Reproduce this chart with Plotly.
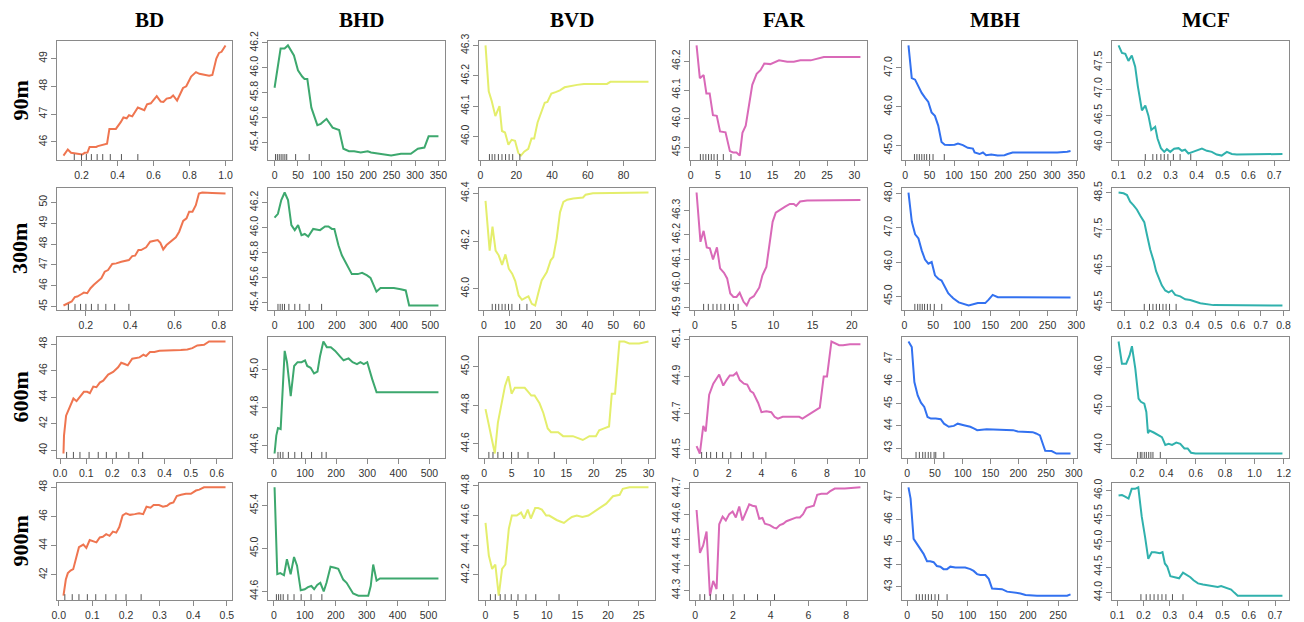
import plotly.graph_objects as go

# ---------------- values ----------------
# row 90m
BD_90_X = [0.10, 0.124, 0.142, 0.191, 0.204, 0.218, 0.233, 0.245, 0.282, 0.291, 0.318, 0.342, 0.355, 0.391,
           0.418, 0.433, 0.451, 0.464, 0.482, 0.513, 0.549, 0.564, 0.585, 0.618, 0.640, 0.655, 0.673, 0.695,
           0.709, 0.731, 0.764, 0.782, 0.809, 0.836, 0.855, 0.891, 0.909, 0.927, 0.949, 0.964, 0.978, 1.0]
BD_90_Y = [45.51, 45.73, 45.61, 45.56, 45.55, 45.61, 45.62, 45.82, 45.82, 45.85, 45.91, 45.94, 46.47, 46.47,
           46.71, 46.88, 46.85, 46.96, 46.92, 47.24, 47.14, 47.35, 47.39, 47.65, 47.45, 47.44, 47.56, 47.59,
           47.67, 47.49, 47.94, 48.0, 48.35, 48.51, 48.45, 48.41, 48.38, 48.41, 49.0, 49.2, 49.24, 49.47]
BD_90_RUG = [0.16, 0.2, 0.227, 0.255, 0.287, 0.318, 0.36, 0.422, 0.513]
BD_90_XT = ["0.2", "0.4", "0.6", "0.8", "1.0"]
BD_90_YT = ["46", "47", "48", "49"]

BHD_90_X = [0, 12.9, 21.4, 28.6, 41.4, 50, 59, 64, 70, 78.6, 91.4, 98.6, 111, 124, 138, 147, 159, 170, 184,
            199, 206, 227, 249, 270, 291, 306, 320, 329, 350]
BHD_90_Y = [45.84, 46.155, 46.155, 46.18, 46.10, 45.98, 45.93, 45.91, 45.91, 45.68, 45.54, 45.55, 45.59, 45.52,
            45.50, 45.35, 45.33, 45.33, 45.32, 45.33, 45.32, 45.305, 45.295, 45.31, 45.31, 45.35, 45.36, 45.45,
            45.45]
BHD_90_RUG = [2, 6, 10, 14, 18, 22, 26, 45, 74]
BHD_90_XT = ["0", "50", "100", "150", "200", "250", "300", "350"]
BHD_90_YT = ["45.4", "45.6", "45.8", "46.0", "46.2"]

BVD_90_X = [2.8, 4.6, 6.3, 8.3, 10.6, 12.0, 13.7, 15.6, 17.4, 19.3, 21.1, 22.6, 24.4, 26.7, 28.5, 30.0, 31.9,
            34.1, 35.9, 37.4, 39.6, 42, 44.4, 47, 50.4, 54, 57.8, 63.3, 70.7, 72.6, 80, 93.9]
BVD_90_Y = [46.30, 46.149, 46.116, 46.067, 46.10, 46.018, 46.013, 45.973, 45.989, 45.986, 45.946, 45.937, 45.95,
            45.959, 45.993, 45.993, 46.046, 46.084, 46.111, 46.114, 46.141, 46.146, 46.152, 46.162, 46.167,
            46.17, 46.173, 46.173, 46.173, 46.18, 46.18, 46.18]
BVD_90_RUG = [5, 6.5, 8, 10, 12, 14, 16, 18, 22]
BVD_90_XT = ["0", "20", "40", "60", "80"]
BVD_90_YT = ["46.0", "46.1", "46.2", "46.3"]

FAR_90_X = [1.1, 1.7, 2.4, 2.9, 3.5, 4.1, 4.8, 5.4, 6.4, 7.2, 7.8, 8.4, 9.0, 9.5, 10.1, 10.7, 11.3, 12.1, 12.8,
            13.5, 14.6, 16.2, 17.7, 18.9, 20.1, 22, 23.2, 24.4, 27.4, 31.1]
FAR_90_Y = [46.255, 46.141, 46.152, 46.088, 46.088, 46.0125, 46.01, 45.956, 45.953, 45.8875, 45.883, 45.883,
            45.872, 45.951, 45.976, 46.044, 46.118, 46.156, 46.169, 46.192, 46.19, 46.203, 46.198, 46.198,
            46.203, 46.203, 46.209, 46.215, 46.215, 46.215]
FAR_90_RUG = [1.8, 2.3, 2.8, 3.3, 3.8, 4.3, 4.9, 6.0, 7.4]
FAR_90_XT = ["0", "5", "10", "15", "20", "25", "30"]
FAR_90_YT = ["45.9", "46.0", "46.1", "46.2"]

MBH_90_X = [6.8, 13.5, 20.3, 27, 33.8, 40.5, 47.3, 54, 60.8, 67.6, 74.3, 81, 91, 101, 108, 118, 128, 138.5, 142,
            152, 159, 165.5, 176, 189, 203, 209.5, 219.6, 236.5, 270, 311, 331, 338]
MBH_90_Y = [47.58, 46.74, 46.70, 46.51, 46.36, 46.24, 46.13, 45.86, 45.77, 45.52, 45.10, 45.03, 45.02, 45.03,
            45.06, 45.02, 44.95, 44.93, 44.83, 44.79, 44.83, 44.76, 44.78, 44.75, 44.76, 44.79, 44.83, 44.83,
            44.83, 44.83, 44.85, 44.87]
MBH_90_RUG = [19, 24, 29, 34, 39, 44, 50, 57, 80]
MBH_90_XT = ["0", "50", "100", "150", "200", "250", "300", "350"]
MBH_90_YT = ["45.0", "46.0", "47.0"]

MCF_90_X = [0.1, 0.113, 0.126, 0.138, 0.151, 0.164, 0.174, 0.183, 0.19, 0.203, 0.215, 0.226, 0.241, 0.25, 0.263,
            0.276, 0.286, 0.299, 0.314, 0.331, 0.344, 0.356, 0.369, 0.386, 0.408, 0.421, 0.44, 0.459, 0.478,
            0.497, 0.517, 0.536, 0.555, 0.619, 0.683, 0.731]
MCF_90_Y = [47.82, 47.68, 47.66, 47.53, 47.63, 47.42, 47.06, 46.75, 46.60, 46.69, 46.50, 46.23, 46.29, 46.07,
            45.89, 45.82, 45.87, 45.82, 45.88, 45.89, 45.84, 45.86, 45.79, 45.82, 45.86, 45.88, 45.84, 45.82,
            45.77, 45.75, 45.82, 45.78, 45.77, 45.77, 45.78, 45.78]
MCF_90_RUG = [0.203, 0.232, 0.247, 0.263, 0.276, 0.29, 0.311, 0.337, 0.378]
MCF_90_XT = ["0.1", "0.2", "0.3", "0.4", "0.5", "0.6", "0.7"]
MCF_90_YT = ["46.0", "46.5", "47.0", "47.5"]

# row 300m
BD_300_X = [0.099, 0.12, 0.136, 0.15, 0.161, 0.181, 0.191, 0.206, 0.221, 0.236, 0.255, 0.27, 0.285, 0.3, 0.319,
            0.337, 0.36, 0.385, 0.394, 0.409, 0.422, 0.437, 0.449, 0.472, 0.49, 0.509, 0.524, 0.536, 0.549,
            0.564, 0.584, 0.606, 0.621, 0.639, 0.654, 0.666, 0.681, 0.696, 0.710, 0.725, 0.770, 0.8, 0.83]
BD_300_Y = [45.05, 45.16, 45.24, 45.45, 45.48, 45.6, 45.67, 45.64, 45.88, 46.04, 46.24, 46.36, 46.67, 46.75,
            47.04, 47.07, 47.15, 47.23, 47.23, 47.42, 47.44, 47.71, 47.71, 47.84, 48.11, 48.16, 48.19, 48.06,
            47.74, 47.95, 48.11, 48.32, 48.59, 49.11, 49.23, 49.55, 49.55, 49.86, 50.42, 50.47, 50.45, 50.42,
            50.42]
BD_300_RUG = [0.121, 0.151, 0.176, 0.2, 0.225, 0.255, 0.29, 0.33, 0.394]
BD_300_XT = ["0.2", "0.4", "0.6", "0.8"]
BD_300_YT = ["45", "46", "47", "48", "49", "50"]

BHD_300_X = [0, 10.8, 21.6, 32.4, 43.2, 54, 64.8, 75.6, 86.4, 97, 108, 124, 146, 162, 173, 184, 192, 205, 216,
             232, 248, 267, 281, 297, 308, 327, 340, 362, 383, 405, 421, 432, 470, 526]
BHD_300_Y = [46.08, 46.11, 46.22, 46.28, 46.22, 46.02, 45.98, 46.02, 45.94, 45.95, 45.93, 45.99, 45.98, 46.01,
             46.01, 45.99, 45.99, 45.86, 45.78, 45.71, 45.63, 45.63, 45.64, 45.62, 45.60, 45.49, 45.52, 45.52,
             45.52, 45.51, 45.50, 45.38, 45.38, 45.38]
BHD_300_RUG = [11, 18, 25, 32, 46, 65, 81, 111, 151]
BHD_300_XT = ["0", "100", "200", "300", "400", "500"]
BHD_300_YT = ["45.4", "45.6", "45.8", "46.0", "46.2"]

BVD_300_X = [0.6, 2.2, 3.3, 4.5, 5.7, 7.0, 8.3, 9.6, 10.9, 12.1, 13.4, 14.7, 16.0, 17.2, 18.5, 19.8, 21.1, 22.3,
             24.3, 25.8, 26.8, 28.1, 29.4, 30.7, 32.2, 34.5, 38.3, 39.3, 42.1, 49.8, 60, 63.6]
BVD_300_Y = [46.368, 46.16, 46.26, 46.16, 46.14, 46.10, 46.144, 46.084, 46.063, 46.032, 45.972, 45.954, 45.962,
             45.968, 45.937, 45.93, 45.986, 46.035, 46.07, 46.119, 46.133, 46.21, 46.32, 46.364, 46.373, 46.378,
             46.382, 46.394, 46.40, 46.40, 46.403, 46.403]
BVD_300_RUG = [3.2, 4.5, 5.7, 7, 8.2, 9.5, 10.8, 13.8, 16.6]
BVD_300_XT = ["0", "10", "20", "30", "40", "50", "60"]
BVD_300_YT = ["46.0", "46.2", "46.4"]

FAR_300_X = [0.2, 0.7, 1.1, 1.5, 1.9, 2.3, 2.8, 3.2, 3.7, 4.1, 4.5, 4.9, 5.3, 5.7, 6.2, 6.6, 7.0, 7.5, 8.2, 8.6,
             9.1, 9.5, 9.9, 10.3, 10.9, 11.5, 12.1, 12.6, 12.9, 13.4, 14.3, 16.4, 18.5, 21.1]
FAR_300_Y = [46.373, 46.171, 46.216, 46.148, 46.144, 46.099, 46.148, 46.062, 46.044, 46.021, 45.959, 45.945,
             45.945, 45.962, 45.925, 45.91, 45.938, 45.948, 45.984, 46.034, 46.068, 46.151, 46.253, 46.29,
             46.304, 46.315, 46.326, 46.326, 46.318, 46.336, 46.34, 46.34, 46.342, 46.342]
FAR_300_RUG = [1.1, 1.7, 2.3, 2.8, 3.3, 3.8, 4.4, 4.9, 5.5]
FAR_300_XT = ["0", "5", "10", "15", "20"]
FAR_300_YT = ["45.9", "46.0", "46.1", "46.2", "46.3"]

MBH_300_X = [6.9, 12.7, 18.5, 24.3, 30, 35.8, 41.6, 47.4, 53.2, 59, 64.7, 70.5, 76.3, 82, 85, 94.8, 112, 128,
             141, 147, 154, 163, 175, 198, 290]
MBH_300_Y = [48.03, 47.18, 46.81, 46.69, 46.34, 46.07, 45.95, 46.0, 45.61, 45.51, 45.46, 45.26, 45.09, 44.99,
             44.94, 44.82, 44.73, 44.80, 44.80, 44.90, 45.04, 44.97, 44.97, 44.96, 44.96]
MBH_300_RUG = [18, 23, 27, 31, 35, 40, 45, 52, 65]
MBH_300_XT = ["0", "50", "100", "150", "200", "250", "300"]
MBH_300_YT = ["45.0", "46.0", "47.0", "48.0"]

MCF_300_X = [0.075, 0.097, 0.112, 0.126, 0.141, 0.156, 0.17, 0.188, 0.2, 0.214, 0.229, 0.24, 0.25, 0.265, 0.28,
             0.295, 0.309, 0.324, 0.346, 0.368, 0.39, 0.434, 0.492, 0.595, 0.795]
MCF_300_Y = [48.51, 48.49, 48.44, 48.26, 48.16, 48.04, 47.88, 47.70, 47.35, 46.95, 46.64, 46.36, 46.2, 45.97,
             45.83, 45.78, 45.83, 45.71, 45.67, 45.59, 45.57, 45.48, 45.43, 45.42, 45.42]
MCF_300_RUG = [0.188, 0.211, 0.226, 0.241, 0.255, 0.27, 0.284, 0.299, 0.328]
MCF_300_XT = ["0.1", "0.2", "0.3", "0.4", "0.5", "0.6", "0.7", "0.8"]
MCF_300_YT = ["45.5", "46.5", "47.5", "48.5"]

# row 600m
BD_600_X = [0.013, 0.015, 0.023, 0.032, 0.041, 0.051, 0.063, 0.076, 0.091, 0.104, 0.114, 0.127, 0.139, 0.152,
            0.165, 0.184, 0.203, 0.222, 0.234, 0.247, 0.259, 0.276, 0.291, 0.304, 0.319, 0.329, 0.344, 0.361,
            0.38, 0.399, 0.43, 0.462, 0.487, 0.506, 0.525, 0.551, 0.57, 0.601, 0.633]
BD_600_Y = [39.75, 41.1, 42.6, 43.0, 43.4, 43.9, 43.7, 44.0, 44.4, 44.4, 44.3, 44.8, 44.75, 45.1, 45.25, 45.7,
            45.9, 46.25, 46.6, 46.5, 46.4, 46.9, 46.95, 47.0, 47.2, 47.1, 47.4, 47.4, 47.5, 47.5, 47.5, 47.55,
            47.6, 47.7, 47.9, 47.95, 48.2, 48.2, 48.2]
BD_600_RUG = [0.025, 0.051, 0.076, 0.111, 0.146, 0.177, 0.215, 0.263, 0.316]
BD_600_XT = ["0.0", "0.1", "0.2", "0.3", "0.4", "0.5", "0.6"]
BD_600_YT = ["40", "42", "44", "46", "48"]

BHD_600_X = [2, 7.6, 13, 21.6, 34.6, 42, 54, 65, 76, 89, 100, 107, 118, 129, 140, 148, 159, 170, 183, 197, 213,
             224, 240, 253, 267, 278, 289, 300, 316, 330, 343, 408, 529]
BHD_600_Y = [44.555, 44.65, 44.69, 44.685, 45.10, 45.04, 44.86, 45.02, 45.04, 45.04, 45.05, 45.02, 45.01, 44.98,
             44.99, 45.07, 45.15, 45.12, 45.12, 45.10, 45.07, 45.05, 45.06, 45.04, 45.03, 45.04, 45.03, 45.04,
             44.95, 44.88, 44.88, 44.88, 44.88]
BHD_600_RUG = [13, 20.5, 29, 46.5, 67, 89, 121, 154, 168]
BHD_600_XT = ["0", "100", "200", "300", "400", "500"]
BHD_600_YT = ["44.6", "44.8", "45.0"]

BVD_600_X = [0.24, 0.9, 1.5, 1.94, 2.5, 3.2, 3.8, 4.4, 5.0, 5.6, 6.5, 7.4, 8.0, 8.6, 9.2, 10.1, 10.8, 11.6, 12.2,
             12.8, 13.5, 14.4, 16.2, 18, 19.2, 20.4, 21.0, 21.9, 22.8, 23.3, 23.9, 24.7, 25.6, 26.5, 28.3, 30]
BVD_600_Y = [44.78, 44.69, 44.61, 44.55, 44.71, 44.82, 44.90, 44.95, 44.86, 44.89, 44.89, 44.89, 44.87, 44.85,
             44.85, 44.81, 44.76, 44.68, 44.66, 44.66, 44.66, 44.64, 44.64, 44.62, 44.64, 44.64, 44.67, 44.68,
             44.69, 44.86, 44.86, 45.13, 45.13, 45.12, 45.12, 45.13]
BVD_600_RUG = [0.85, 1.6, 2.5, 3.5, 5.0, 6.2, 8.0, 12.8]
BVD_600_XT = ["0", "5", "10", "15", "20", "25", "30"]
BVD_600_YT = ["44.6", "44.8", "45.0"]

FAR_600_X = [0.04, 0.24, 0.45, 0.6, 0.81, 1.06, 1.42, 1.67, 1.87, 2.07, 2.28, 2.48, 2.68, 2.93, 3.13, 3.33, 3.5,
             3.8, 4.0, 4.3, 4.6, 4.8, 5.0, 5.3, 5.9, 6.3, 6.5, 6.85, 7.25, 7.56, 7.8, 8.0, 8.27, 8.48, 8.74,
             8.98, 9.4, 10.04]
FAR_600_Y = [44.52, 44.48, 44.63, 44.60, 44.80, 44.86, 44.91, 44.85, 44.88, 44.905, 44.905, 44.92, 44.88, 44.86,
             44.855, 44.82, 44.81, 44.755, 44.705, 44.71, 44.705, 44.68, 44.67, 44.68, 44.68, 44.68, 44.67,
             44.69, 44.71, 44.73, 44.90, 44.90, 45.09, 45.08, 45.07, 45.07, 45.075, 45.075]
FAR_600_RUG = [0.35, 0.65, 0.9, 1.26, 1.63, 2.13, 2.78, 3.5, 4.27]
FAR_600_XT = ["0", "2", "4", "6", "8", "10"]
FAR_600_YT = ["44.5", "44.7", "44.9", "45.1"]

MBH_600_X = [2.4, 8.3, 13, 19, 24.9, 30.8, 36.7, 42.6, 51.5, 60.4, 66.3, 75, 84, 91, 102, 113.6, 120.7, 126, 143,
             190.5, 199, 226, 232, 239, 245, 248.5, 260, 268.6, 294]
MBH_600_Y = [47.79, 47.54, 45.97, 45.37, 45.04, 44.85, 44.40, 44.33, 44.33, 44.30, 44.10, 43.96, 44.0, 44.10,
             44.03, 43.96, 43.88, 43.81, 43.85, 43.81, 43.75, 43.72, 43.66, 43.57, 43.13, 42.88, 42.87, 42.76,
             42.76]
MBH_600_RUG = [16, 22, 28, 32.5, 38, 42.6, 48.5, 51.5, 66]
MBH_600_XT = ["0", "50", "100", "150", "200", "250", "300"]
MBH_600_YT = ["43", "44", "45", "46", "47"]

MCF_600_X = [0.075, 0.098, 0.127, 0.15, 0.166, 0.189, 0.211, 0.227, 0.25, 0.264, 0.275, 0.286, 0.314, 0.341,
             0.37, 0.393, 0.416, 0.439, 0.468, 0.495, 0.523, 0.545, 0.568, 0.598, 0.655, 1.19]
MCF_600_Y = [46.66, 46.09, 46.09, 46.30, 46.54, 45.96, 45.19, 45.11, 45.06, 44.85, 44.30, 44.37, 44.32, 44.26,
             44.20, 44.0, 44.03, 44.0, 44.06, 44.03, 43.91, 43.91, 43.80, 43.78, 43.78, 43.78]
MCF_600_RUG = [0.205, 0.223, 0.234, 0.25, 0.264, 0.28, 0.295, 0.309, 0.359]
MCF_600_XT = ["0.2", "0.4", "0.6", "0.8", "1.0", "1.2"]
MCF_600_YT = ["44.0", "45.0", "46.0"]

# row 900m
BD_900_X = [0.014, 0.021, 0.027, 0.035, 0.043, 0.05, 0.06, 0.073, 0.082, 0.092, 0.102, 0.112, 0.122, 0.131,
            0.141, 0.151, 0.161, 0.171, 0.18, 0.19, 0.2, 0.212, 0.226, 0.239, 0.251, 0.261, 0.273, 0.282, 0.298,
            0.31, 0.322, 0.331, 0.341, 0.351, 0.364, 0.378, 0.393, 0.408, 0.418, 0.432, 0.457, 0.496]
BD_900_Y = [40.56, 41.67, 42.11, 42.29, 42.38, 43.04, 43.89, 44.07, 43.84, 44.38, 44.29, 44.22, 44.56, 44.6,
            44.78, 44.67, 44.96, 44.89, 45.27, 46.07, 46.22, 46.11, 46.16, 46.22, 46.16, 46.67, 46.6, 46.78,
            46.78, 46.67, 46.73, 46.89, 46.96, 47.4, 47.49, 47.56, 47.56, 47.78, 47.84, 48.0, 48.0, 48.0]
BD_900_RUG = [0.018, 0.04, 0.06, 0.085, 0.11, 0.14, 0.17, 0.2, 0.245]
BD_900_XT = ["0.0", "0.1", "0.2", "0.3", "0.4", "0.5"]
BD_900_YT = ["42", "44", "46", "48"]

BHD_900_X = [2, 10.8, 20.6, 32.5, 42, 54, 65, 74.7, 86.6, 99.6, 110, 121, 130, 140, 150, 161, 170, 183, 197, 208,
             224, 235, 256, 273, 289, 305, 313, 321, 332, 343, 408, 532]
BHD_900_Y = [45.57, 44.76, 44.77, 44.75, 44.90, 44.76, 44.92, 44.84, 44.61, 44.62, 44.64, 44.65, 44.62, 44.66,
             44.68, 44.60, 44.68, 44.83, 44.82, 44.81, 44.71, 44.68, 44.58, 44.56, 44.56, 44.56, 44.65, 44.85,
             44.70, 44.72, 44.72, 44.72]
BHD_900_RUG = [8, 15, 22, 30, 45, 65, 88, 120, 155]
BHD_900_XT = ["0", "100", "200", "300", "400", "500"]
BHD_900_YT = ["44.6", "45.0", "45.4"]

BVD_900_X = [0, 0.54, 1.08, 1.6, 2.16, 2.7, 3.24, 3.8, 4.3, 5.1, 5.8, 6.3, 6.9, 7.4, 8.1, 8.6, 9.2, 9.9, 10.4,
             11.1, 11.6, 12.2, 12.8, 13.4, 14.1, 14.9, 15.8, 16.8, 17.6, 18.6, 19.7, 20.8, 21.9, 22.4, 23.5,
             25.1, 26.6]
BVD_900_Y = [44.55, 44.33, 44.24, 44.27, 44.06, 44.24, 44.27, 44.51, 44.60, 44.60, 44.62, 44.58, 44.64, 44.58,
             44.65, 44.65, 44.64, 44.60, 44.60, 44.58, 44.57, 44.56, 44.55, 44.57, 44.59, 44.60, 44.59, 44.60,
             44.62, 44.65, 44.68, 44.73, 44.74, 44.78, 44.79, 44.79, 44.79]
BVD_900_RUG = [0.8, 1.6, 2.4, 3.2, 4.2, 5.3, 6.6, 8.2, 12]
BVD_900_XT = ["0", "5", "10", "15", "20", "25"]
BVD_900_YT = ["44.2", "44.4", "44.6", "44.8"]

FAR_900_X = [0.07, 0.25, 0.42, 0.6, 0.78, 0.95, 1.13, 1.27, 1.45, 1.62, 1.8, 1.98, 2.15, 2.33, 2.5, 2.68, 2.86,
             3.03, 3.21, 3.39, 3.56, 3.69, 3.95, 4.16, 4.3, 4.48, 4.66, 4.83, 5.19, 5.36, 5.54, 5.71, 5.89, 6.1,
             6.28, 6.46, 6.68, 6.98, 7.13, 7.39, 7.92, 8.75]
FAR_900_Y = [44.616, 44.448, 44.477, 44.532, 44.28, 44.338, 44.306, 44.56, 44.59, 44.575, 44.60, 44.61, 44.587,
             44.63, 44.575, 44.61, 44.638, 44.633, 44.63, 44.582, 44.585, 44.562, 44.557, 44.547, 44.544, 44.557,
             44.562, 44.572, 44.582, 44.587, 44.587, 44.60, 44.625, 44.63, 44.633, 44.676, 44.68, 44.68, 44.689,
             44.70, 44.70, 44.705]
FAR_900_RUG = [0.25, 0.5, 0.8, 1.1, 1.5, 2.0, 2.6, 3.3, 4.2]
FAR_900_XT = ["0", "2", "4", "6", "8"]
FAR_900_YT = ["44.3", "44.4", "44.5", "44.6", "44.7"]

MBH_900_X = [2, 5.5, 10.5, 16, 21.6, 27, 32.7, 38, 43.7, 49, 54.8, 60, 65.9, 71.4, 79.7, 88, 96, 104.6, 110,
             115.7, 121, 129.5, 135, 140.6, 146, 157, 165.5, 176.5, 187.6, 196, 215, 243, 265, 270.6]
MBH_900_Y = [47.43, 46.93, 45.14, 44.93, 44.71, 44.47, 44.14, 44.14, 44.1, 43.93, 43.9, 43.79, 43.79, 43.9, 43.86,
             43.86, 43.86, 43.79, 43.71, 43.57, 43.53, 43.53, 43.36, 42.93, 42.93, 42.9, 42.79, 42.76, 42.71,
             42.64, 42.61, 42.61, 42.61, 42.67]
MBH_900_RUG = [15, 20, 25, 30, 35, 40, 46, 52, 66]
MBH_900_XT = ["0", "50", "100", "150", "200", "250"]
MBH_900_YT = ["43", "44", "45", "46", "47"]

MCF_900_X = [0.105, 0.118, 0.13, 0.143, 0.155, 0.168, 0.18, 0.193, 0.206, 0.218, 0.231, 0.243, 0.262, 0.272,
             0.281, 0.29, 0.302, 0.319, 0.335, 0.35, 0.363, 0.378, 0.39, 0.407, 0.426, 0.451, 0.47, 0.482, 0.495,
             0.514, 0.533, 0.545, 0.558, 0.589, 0.728]
MCF_900_Y = [45.90, 45.91, 45.88, 45.84, 46.03, 46.03, 46.06, 45.49, 45.08, 44.66, 44.79, 44.79, 44.77, 44.79,
             44.57, 44.51, 44.32, 44.30, 44.28, 44.39, 44.35, 44.30, 44.24, 44.18, 44.16, 44.14, 44.13, 44.11,
             44.13, 44.09, 44.06, 44.0, 43.94, 43.94, 43.94]
MCF_900_RUG = [0.19, 0.21, 0.225, 0.24, 0.255, 0.27, 0.285, 0.31, 0.35]
MCF_900_XT = ["0.1", "0.2", "0.3", "0.4", "0.5", "0.6", "0.7"]
MCF_900_YT = ["44.0", "44.5", "45.0", "45.5", "46.0"]

COLUMNS = ["BD", "BHD", "BVD", "FAR", "MBH", "MCF"]
ROWS = ["90m", "300m", "600m", "900m"]
COLORS = ["#EF7550", "#3DA86E", "#E4EE6C", "#D969B8", "#3271F0", "#30B1AD"]

PANELS = [
    [(BD_90_X, BD_90_Y, BD_90_RUG, BD_90_XT, BD_90_YT),
     (BHD_90_X, BHD_90_Y, BHD_90_RUG, BHD_90_XT, BHD_90_YT),
     (BVD_90_X, BVD_90_Y, BVD_90_RUG, BVD_90_XT, BVD_90_YT),
     (FAR_90_X, FAR_90_Y, FAR_90_RUG, FAR_90_XT, FAR_90_YT),
     (MBH_90_X, MBH_90_Y, MBH_90_RUG, MBH_90_XT, MBH_90_YT),
     (MCF_90_X, MCF_90_Y, MCF_90_RUG, MCF_90_XT, MCF_90_YT)],
    [(BD_300_X, BD_300_Y, BD_300_RUG, BD_300_XT, BD_300_YT),
     (BHD_300_X, BHD_300_Y, BHD_300_RUG, BHD_300_XT, BHD_300_YT),
     (BVD_300_X, BVD_300_Y, BVD_300_RUG, BVD_300_XT, BVD_300_YT),
     (FAR_300_X, FAR_300_Y, FAR_300_RUG, FAR_300_XT, FAR_300_YT),
     (MBH_300_X, MBH_300_Y, MBH_300_RUG, MBH_300_XT, MBH_300_YT),
     (MCF_300_X, MCF_300_Y, MCF_300_RUG, MCF_300_XT, MCF_300_YT)],
    [(BD_600_X, BD_600_Y, BD_600_RUG, BD_600_XT, BD_600_YT),
     (BHD_600_X, BHD_600_Y, BHD_600_RUG, BHD_600_XT, BHD_600_YT),
     (BVD_600_X, BVD_600_Y, BVD_600_RUG, BVD_600_XT, BVD_600_YT),
     (FAR_600_X, FAR_600_Y, FAR_600_RUG, FAR_600_XT, FAR_600_YT),
     (MBH_600_X, MBH_600_Y, MBH_600_RUG, MBH_600_XT, MBH_600_YT),
     (MCF_600_X, MCF_600_Y, MCF_600_RUG, MCF_600_XT, MCF_600_YT)],
    [(BD_900_X, BD_900_Y, BD_900_RUG, BD_900_XT, BD_900_YT),
     (BHD_900_X, BHD_900_Y, BHD_900_RUG, BHD_900_XT, BHD_900_YT),
     (BVD_900_X, BVD_900_Y, BVD_900_RUG, BVD_900_XT, BVD_900_YT),
     (FAR_900_X, FAR_900_Y, FAR_900_RUG, FAR_900_XT, FAR_900_YT),
     (MBH_900_X, MBH_900_Y, MBH_900_RUG, MBH_900_XT, MBH_900_YT),
     (MCF_900_X, MCF_900_Y, MCF_900_RUG, MCF_900_XT, MCF_900_YT)],
]

# ---------------- layout (pixels of the 1304x622 page) ----------------
OFF = 8                      # the page body sits 8px in from the window edge
W, H = 1304 - OFF, 622 - OFF
COL_PX = [(57, 232), (268, 445), (479, 655), (690, 867), (902, 1077), (1112, 1289)]
ROW_PX = [(41, 160), (188, 310), (337, 458), (483, 600)]
BOX = "#8a8a8a"
TICKFONT = dict(family="Liberation Sans, Arial", size=10.5, color="#333333")
HEADFONT = dict(family="Liberation Serif, Times New Roman", size=21, color="black")


def px_x(p):
    return (p - OFF) / W


def px_y(p):
    return 1 - (p - OFF) / H


def padded(vals):
    # R's default 4% axis extension
    lo, hi = min(vals), max(vals)
    d = (hi - lo) * 0.04
    return [lo - d, hi + d]


fig = go.Figure()
layout = {}
shapes = []

for r, row in enumerate(PANELS):
    for c, (xs, ys, rug, xt, yt) in enumerate(row):
        assert len(xs) == len(ys), (r, c)
        n = r * 6 + c + 1
        sx = "" if n == 1 else str(n)
        fig.add_trace(go.Scatter(x=xs, y=ys, mode="lines", xaxis="x" + sx, yaxis="y" + sx,
                                 line=dict(color=COLORS[c], width=2), showlegend=False,
                                 hoverinfo="x+y"))
        l, rr = COL_PX[c]
        t, b = ROW_PX[r]
        layout["xaxis" + sx] = dict(
            domain=[px_x(l), px_x(rr)], anchor="y" + sx, range=padded(xs), automargin=False,
            tickvals=[float(v) for v in xt], ticktext=xt, ticks="outside", ticklen=5,
            tickcolor=BOX, showline=True, mirror=True, linecolor=BOX, linewidth=1,
            showgrid=False, zeroline=False, tickfont=TICKFONT)
        layout["yaxis" + sx] = dict(
            domain=[px_y(b), px_y(t)], anchor="x" + sx, range=padded(ys), automargin=False,
            tickvals=[float(v) for v in yt], ticktext=yt, ticks="outside", ticklen=5,
            tickcolor=BOX, showline=True, mirror=True, linecolor=BOX, linewidth=1,
            showgrid=False, zeroline=False, tickfont=TICKFONT, tickangle=-90)
        for v in rug:
            shapes.append(dict(type="line", xref="x" + sx, yref="y" + sx + " domain",
                               x0=v, x1=v, y0=0, y1=0.05,
                               line=dict(color="#555555", width=1)))

annotations = []
for c, name in enumerate(COLUMNS):
    l, rr = COL_PX[c]
    annotations.append(dict(text="<b>" + name + "</b>", x=px_x((l + rr) / 2 + 5), y=1,
                            xref="paper", yref="paper", showarrow=False, font=HEADFONT,
                            xanchor="center", yanchor="top", borderpad=0, borderwidth=0))
for r, name in enumerate(ROWS):
    t, b = ROW_PX[r]
    annotations.append(dict(text="<b>" + name + "</b>", x=px_x(20), y=px_y((t + b) / 2),
                            xref="paper", yref="paper", showarrow=False, textangle=-90,
                            font=dict(HEADFONT, size=22), xanchor="center", yanchor="middle"))

fig.update_layout(width=W, height=H,
                  margin=dict(l=0, r=0, t=0, b=0, pad=0, autoexpand=False),
                  paper_bgcolor="white", plot_bgcolor="white",
                  shapes=shapes, annotations=annotations, **layout)

fig.write_html("out.html")
